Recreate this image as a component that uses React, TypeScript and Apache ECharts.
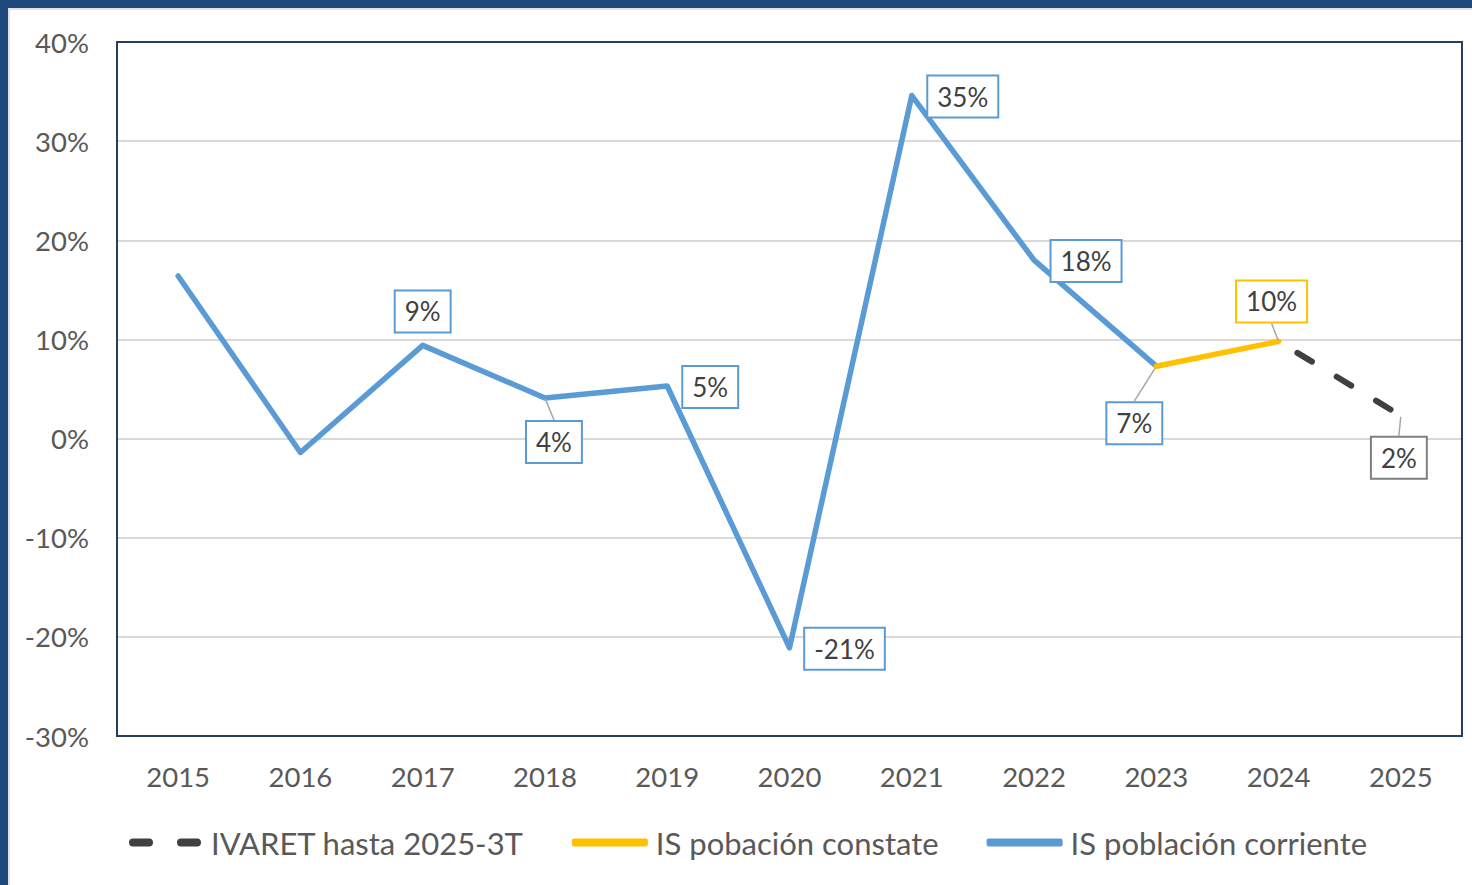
import React, { useEffect, useRef } from "react";
import * as echarts from "echarts";

const years = ["2015", "2016", "2017", "2018", "2019", "2020", "2021", "2022", "2023", "2024", "2025"];
const corriente = [16.4, -1.4, 9.4, 4.1, 5.3, -21.1, 34.6, 18.0, 7.3, null, null];
const constante = [null, null, null, null, null, null, null, null, 7.3, 9.8, null];
const ivaret = [null, null, null, null, null, null, null, null, null, 9.8, 2.3];

const names = ["IVARET hasta 2025-3T", "IS pobación constate", "IS población corriente"];
const yTicks = { min: -30, max: 40, interval: 10 };

// label placement per point: [dx, dy, showGuide] ; null = no label
const corrienteLabels: (null | [number, number, boolean])[] = [
  null, null, [0, -34, false], [9, 44, true], [43, 1, false], [55, 1, false],
  [51, 1, false], [52, 1, false], [-22, 57, true], null, null,
];
const constanteLabels: (null | [number, number, boolean])[] = [
  null, null, null, null, null, null, null, null, null, [-7, -40, true], null,
];
const ivaretLabels: (null | [number, number, boolean])[] = [
  null, null, null, null, null, null, null, null, null, null, [-2, 42, true],
];

const BLUE = "#5b9bd5";
const YELLOW = "#ffc000";
const DARK = "#404040";
const FONT = "Lato, 'Open Sans', sans-serif";

const GRID = { left: 107, top: 32, right: 10, bottom: 149 };
const W = 1462;
const H = 875;

function makeData(vals: (number | null)[], labels: (null | [number, number, boolean])[], border: string) {
  return vals.map((v, i) => {
    const l = labels[i];
    if (v === null) return { value: null } as any;
    if (!l) return { value: v, label: { show: false } };
    return {
      value: v,
      label: {
        show: true,
        position: "inside",
        formatter: (p: any) => Math.round(p.value) + "%",
        fontSize: 26,
        fontFamily: FONT,
        color: "#404040",
        backgroundColor: "#ffffff",
        borderColor: border,
        borderWidth: 2,
        padding: [8, 9, 6, 9],
      },
      labelLine: { show: l[2], lineStyle: { color: "#a6a6a6", width: 1.5 } },
    };
  });
}

function layoutFor(labels: (null | [number, number, boolean])[]) {
  return (p: any) => {
    const l = labels[p.dataIndex];
    if (!l) return {};
    return { dx: l[0], dy: l[1] };
  };
}

export default function App() {
  const ref = useRef<HTMLDivElement>(null);
  useEffect(() => {
    if (!ref.current) return;
    const chart = echarts.init(ref.current, null, { renderer: "svg" });
    chart.setOption({
      animation: false,
      backgroundColor: "#ffffff",
      grid: { ...GRID },
      graphic: [
        {
          type: "rect",
          z: 100,
          silent: true,
          shape: {
            x: GRID.left,
            y: GRID.top,
            width: W - GRID.left - GRID.right,
            height: H - GRID.top - GRID.bottom,
          },
          style: { fill: "none", stroke: "#243f60", lineWidth: 2 },
        },
      ],
      xAxis: {
        type: "category",
        data: years,
        boundaryGap: true,
        axisLine: { show: false },
        axisTick: { show: false },
        axisLabel: { fontSize: 27.5, fontFamily: FONT, color: "#595959", margin: 26 },
      },
      yAxis: {
        type: "value",
        min: yTicks.min,
        max: yTicks.max,
        interval: yTicks.interval,
        axisLine: { show: false },
        axisTick: { show: false },
        axisLabel: { fontSize: 27.5, fontFamily: FONT, color: "#595959", margin: 28, formatter: "{value}%" },
        splitLine: { lineStyle: { color: "#d9d9d9", width: 2 } },
      },
      legend: {
        left: 114,
        top: 812,
        itemGap: 48,
        itemWidth: 76,
        itemHeight: 8,
        textStyle: { fontSize: 31, fontFamily: FONT, color: "#595959", padding: [0, 0, 0, 3] },
        data: [
          {
            name: names[0],
            icon: "path://M4,0 H20 A4,4 0 0 1 20,8 H4 A4,4 0 0 1 4,0 Z M52,0 H68 A4,4 0 0 1 68,8 H52 A4,4 0 0 1 52,0 Z",
            itemStyle: { color: DARK },
          },
          { name: names[1], icon: "roundRect", itemStyle: { color: YELLOW } },
          { name: names[2], icon: "roundRect", itemStyle: { color: BLUE } },
        ],
      },
      series: [
        {
          name: names[2],
          type: "line",
          data: makeData(corriente, corrienteLabels, BLUE),
          symbol: "circle",
          symbolSize: 2,
          itemStyle: { color: BLUE },
          lineStyle: { color: BLUE, width: 5.5, cap: "round", join: "round" },
          labelLayout: layoutFor(corrienteLabels),
          z: 3,
        },
        {
          name: names[1],
          type: "line",
          data: makeData(constante, constanteLabels, YELLOW),
          symbol: "circle",
          symbolSize: 2,
          itemStyle: { color: YELLOW },
          lineStyle: { color: YELLOW, width: 5.5, cap: "round", join: "round" },
          labelLayout: layoutFor(constanteLabels),
          z: 4,
        },
        {
          name: names[0],
          type: "line",
          data: makeData(ivaret, ivaretLabels, "#7f7f7f"),
          symbol: "circle",
          symbolSize: 2,
          itemStyle: { color: "rgba(0,0,0,0)" },
          lineStyle: { color: DARK, width: 6, cap: "round", type: [17, 29], dashOffset: 24 },
          labelLayout: layoutFor(ivaretLabels),
          z: 4,
        },
      ],
    });
    return () => chart.dispose();
  }, []);
  return (
    <div style={{ position: "fixed", left: 0, top: 0, width: 1472, height: 885, background: "#1f497d" }}>
      <div
        style={{
          position: "absolute",
          left: 8,
          top: 8,
          width: 1464,
          height: 877,
          background: "#e2e2e8",
        }}
      />
      <div ref={ref} style={{ position: "absolute", left: 10, top: 10, width: W, height: H }} />
    </div>
  );
}
